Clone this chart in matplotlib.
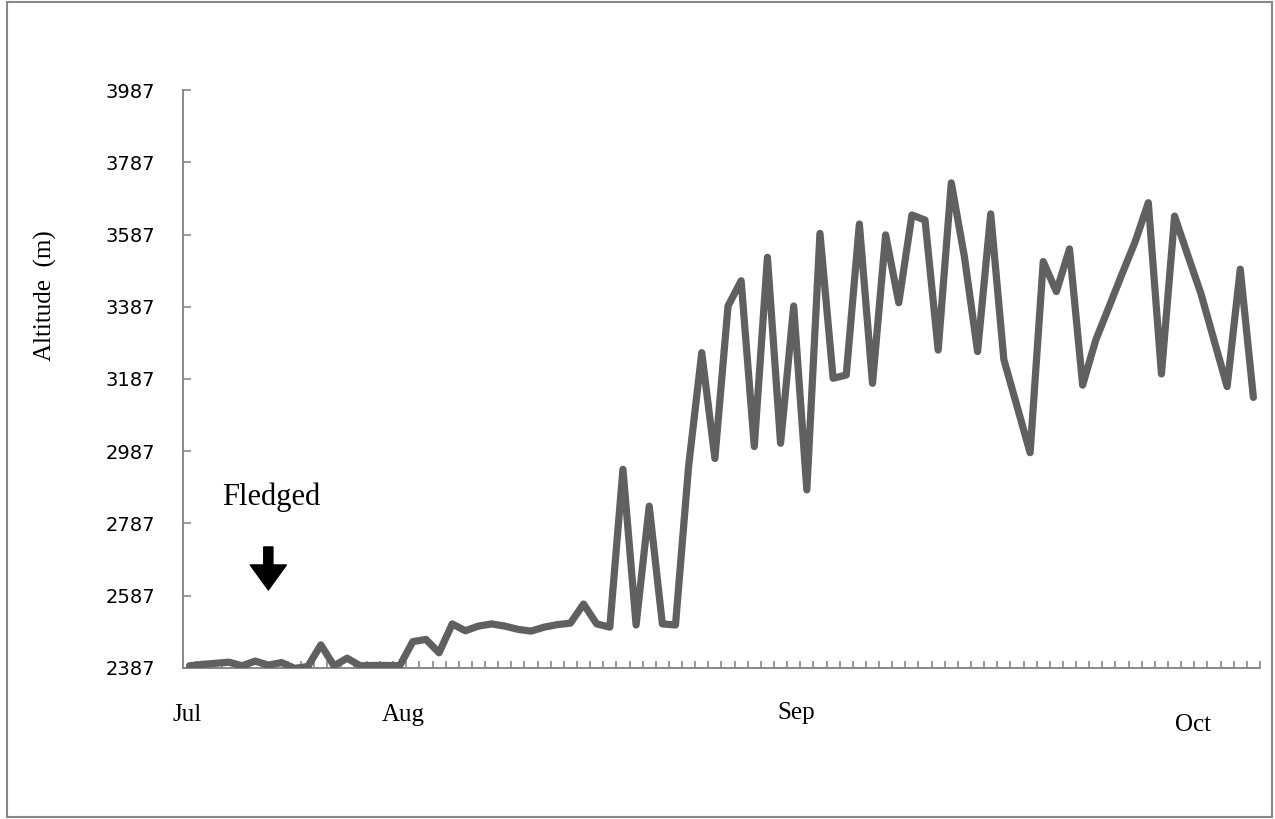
import numpy as np
import matplotlib
matplotlib.use("Agg")
import matplotlib.pyplot as plt
from matplotlib.patches import Rectangle

# altitude of the bird, one value per day (m)
altitude = [2393, 2397, 2400, 2403, 2393, 2406, 2395, 2402, 2386, 2391,
            2451, 2393, 2414, 2393, 2394, 2394, 2393, 2460, 2466, 2429,
            2509, 2490, 2503, 2509, 2503, 2494, 2489, 2500, 2507, 2511,
            2564, 2509, 2500, 2937, 2506, 2835, 2509, 2506, 2946, 3260,
            2967, 3389, 3459, 3000, 3524, 3009, 3389, 2880, 3590, 3189,
            3198, 3616, 3175, 3586, 3398, 3641, 3627, 3267, 3730, 3525,
            3263, 3644, 3241, 3112, 2983, 3512, 3429, 3547, 3170, 3295,
            3386, 3478, 3567, 3675, 3201, 3638, 3530, 3424, 3295, 3166,
            3491, 3136]
days = np.arange(len(altitude))

y_ticks = [2387, 2587, 2787, 2987, 3187, 3387, 3587, 3787, 3987]

# month labels were put by hand under the axis
months = ["Jul", "Aug", "Sep", "Oct"]
month_x = [-0.2, 16.3, 46.2, 76.4]
month_y = [-0.081, -0.081, -0.078, -0.098]

fledged_day = 6

fig = plt.figure(figsize=(12.75, 8.19), dpi=100)
ax = fig.add_axes([0.1435, 0.1844, 0.8447, 0.7057])

ax.plot(days, altitude, color="#606060", lw=5.2, solid_joinstyle="round",
        solid_capstyle="round", zorder=3)

ax.set_xlim(-0.5, len(altitude) - 0.5)
ax.set_ylim(y_ticks[0], y_ticks[-1])
ax.set_yticks(y_ticks)
ax.set_yticklabels([str(v) for v in y_ticks], family="DejaVu Sans", fontsize=14)
ax.set_xticks(np.arange(-0.5, len(altitude), 1))
ax.set_xticklabels([])

for s in ["top", "right"]:
    ax.spines[s].set_visible(False)
for s in ["left", "bottom"]:
    ax.spines[s].set_color("#888888")
    ax.spines[s].set_linewidth(1.4)
ax.tick_params(axis="y", direction="in", length=6, width=1.2, color="#888888", pad=20)
ax.tick_params(axis="x", direction="in", length=5, width=1.2, color="#888888")

ax.set_ylabel("Altitude  (m)", family="Liberation Serif", fontsize=18, labelpad=0)
ax.yaxis.set_label_coords(-0.117, 0.645)

for m, mx, my in zip(months, month_x, month_y):
    ax.text(mx, my, m, transform=ax.get_xaxis_transform(), ha="center", va="center",
            family="Liberation Serif", fontsize=18)

ax.text(fledged_day + 0.2, 2860, "Fledged", ha="center", va="center",
        family="Liberation Serif", fontsize=22)
ax.annotate("", xy=(fledged_day, 2603), xytext=(fledged_day, 2722),
            arrowprops=dict(arrowstyle="simple,head_length=0.9,head_width=1.3,tail_width=0.33",
                            color="black", mutation_scale=20, shrinkA=0, shrinkB=0))

fig.patches.append(Rectangle((0.0055, 0.0024), 0.992, 0.995, transform=fig.transFigure,
                             fill=False, edgecolor="#888888", lw=1.5))

fig.savefig("out.png", dpi=100)
